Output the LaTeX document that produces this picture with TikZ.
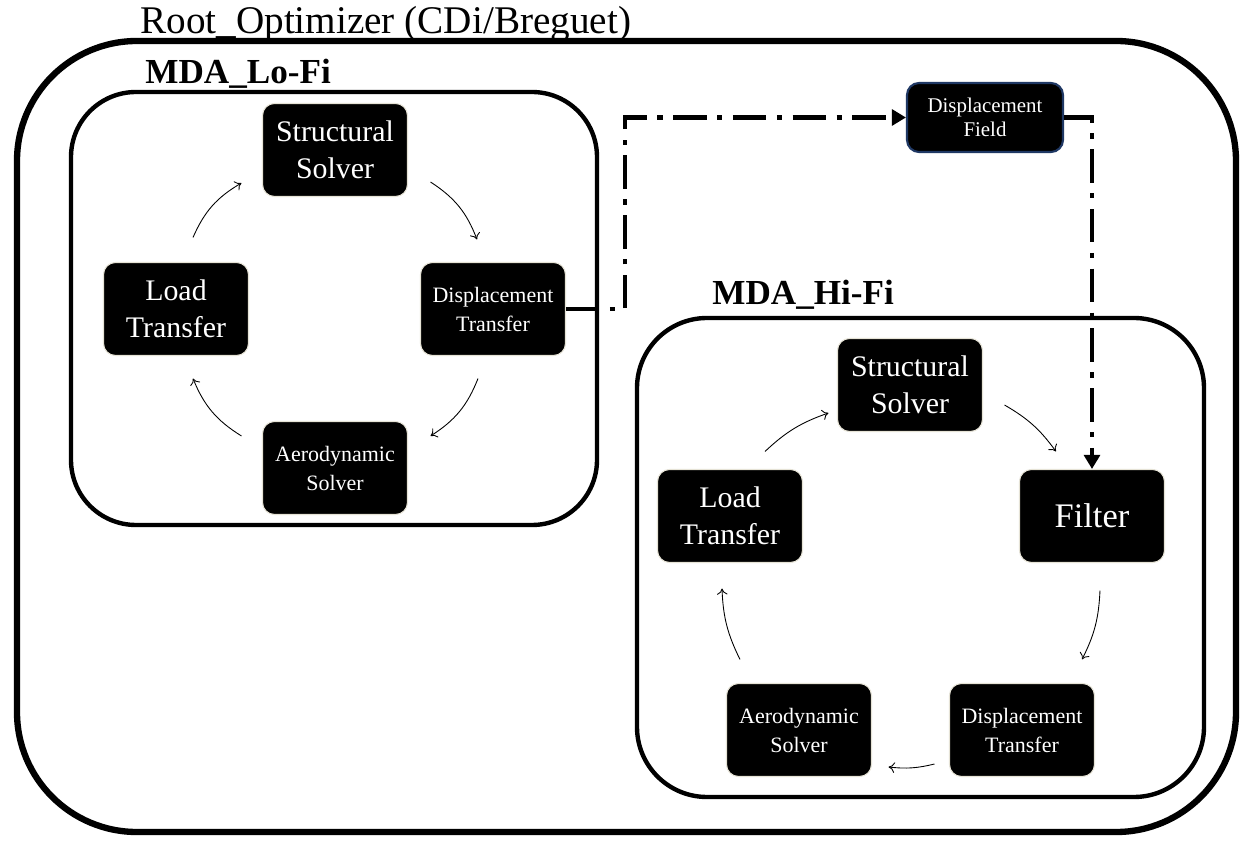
\documentclass[tikz,border=0pt]{standalone}
\usepackage{fontspec}
\setmainfont{Liberation Serif}
\usetikzlibrary{arrows.meta,calc}
\definecolor{navy}{HTML}{1F3864}
\definecolor{edgebeige}{HTML}{E6E3D6}
\begin{document}
\begin{tikzpicture}[x=0.02cm,y=0.02cm,
  blk/.style={draw=edgebeige, line width=0.6pt, fill=black, text=white,
    rounded corners=0.24cm, minimum width=2.9cm, minimum height=1.86cm,
    align=center, inner sep=0pt},
  big/.style={font=\fontsize{17}{21}\selectfont},
  small/.style={font=\fontsize{12.5}{16.5}\selectfont},
  flow/.style={-{To[length=3.5pt,width=6pt]}, line width=0.5pt},
  link/.style={line width=2.6pt, dash pattern=on 19pt off 6pt on 3pt off 6pt,
    -{Triangle[length=8pt,width=9pt]}},
  frame/.style={draw=black, line width=2.5pt},
  lbl/.style={font=\bfseries\fontsize{20}{24}\selectfont, anchor=base west, inner sep=0pt}
]
\fill[white] (0,0) rectangle (1249,-847);
\useasboundingbox (0,0) rectangle (1249,-847);

% outer frame
\draw[line width=3.6pt, rounded corners=2.4cm] (17,-41) rectangle (1236,-832);
\node[anchor=base west, inner sep=0pt, font=\fontsize{22.3}{26}\selectfont] (title) at (140,-34) {Root\_Optimizer (CDi/Breguet)};

% Lo-Fi frame
\draw[frame, rounded corners=1.3cm] (71,-92) rectangle (597,-525);
\node[lbl] (lofi) at (145,-84) {MDA\_Lo-Fi};

% Hi-Fi frame
\draw[frame, rounded corners=1.4cm] (637,-318) rectangle (1204,-797);
\node[lbl] (hifi) at (712,-305) {MDA\_Hi-Fi};

% Lo-Fi nodes
\node[blk, big] (lS) at (335,-150) {Structural\\Solver};
\node[blk, big] (lL) at (176,-309) {Load\\Transfer};
\node[blk, small] (lD) at (493,-309) {Displacement\\Transfer};
\node[blk, small] (lA) at (335,-468) {Aerodynamic\\Solver};

% Hi-Fi nodes
\node[blk, big] (hS) at (910,-385) {Structural\\Solver};
\node[blk, big] (hL) at (730,-516) {Load\\Transfer};
\node[blk, font=\fontsize{19.6}{23}\selectfont] (hF) at (1092,-516) {Filter};
\node[blk, small] (hA) at (799,-730) {Aerodynamic\\Solver};
\node[blk, small] (hD) at (1022,-730) {Displacement\\Transfer};

% Displacement field
\node[blk, draw=navy, line width=1.2pt, minimum width=3.12cm, minimum height=1.38cm,
  font=\fontsize{11.9}{13.8}\selectfont] (dF) at (985,-117.5) {Displacement\\Field};

% Lo-Fi loop
\draw[flow] ([shift={(17,24.5)}]lL.north) to[bend left=18] ([shift={(-20.5,-33)}]lS.west);
\draw[flow] ([shift={(22.5,-32)}]lS.east) to[bend left=18] ([shift={(-16,22.5)}]lD.north);
\draw[flow] ([shift={(-15,-22.5)}]lD.south) to[bend left=18] ([shift={(22.5,32)}]lA.east);
\draw[flow] ([shift={(-20.5,32)}]lA.west) to[bend left=18] ([shift={(17,-22.5)}]lL.south);

% Hi-Fi loop
\draw[flow] ([shift={(35,17.5)}]hL.north) to[bend left=12] ([shift={(-8.5,-28)}]hS.west);
\draw[flow] ([shift={(21.5,-20)}]hS.east) to[bend left=12] ([shift={(-36,17.5)}]hF.north);
\draw[flow] ([shift={(8,-27.5)}]hF.south) to[bend left=12] ([shift={(60,23.5)}]hD.north);
\draw[flow] ([shift={(-14.5,-34)}]hD.west) to[bend left=10] ([shift={(16.5,-37)}]hA.east);
\draw[flow] ([shift={(-59,23.5)}]hA.north) to[bend left=12] ([shift={(-8,-25.5)}]hL.south);

% dash-dot links
\coordinate (k1) at (625,-117.5);
\draw[link] (lD.east) -| (k1) -- (dF.west);
\draw[link] (dF.east) -| (hF.north);
\end{tikzpicture}
\end{document}
